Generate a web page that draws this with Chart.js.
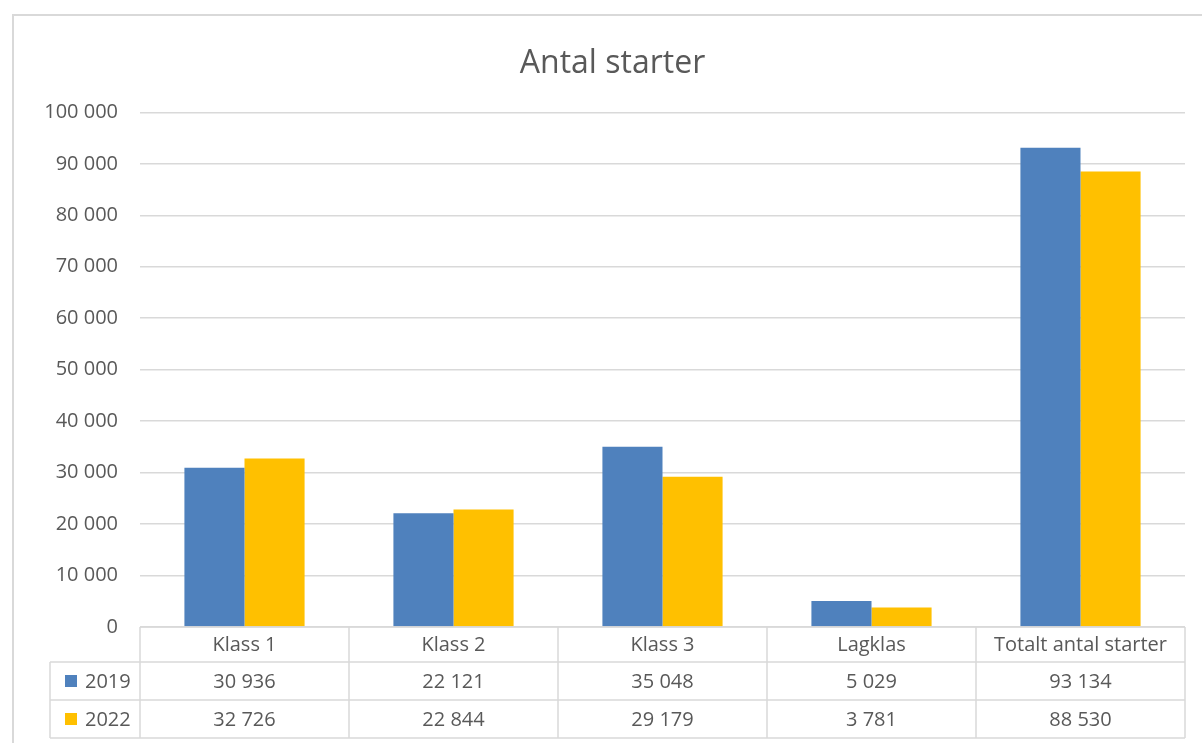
<!DOCTYPE html>
<html>
<head>
<meta charset="utf-8">
<script src="https://cdn.jsdelivr.net/npm/chart.js@4.4.1/dist/chart.umd.min.js"></script>
<style>
  html, body { margin: 0; padding: 0; background: #fff; }
  #wrap { width: 1202px; height: 743px; position: relative; }
</style>
</head>
<body>
<div id="wrap"><canvas id="chart-canvas"></canvas></div>
<script>
const categories = ['Klass 1', 'Klass 2', 'Klass 3', 'Lagklas', 'Totalt antal starter'];
const seriesNames = ['2019', '2022'];
const values2019 = [30936, 22121, 35048, 5029, 93134];
const values2022 = [32726, 22844, 29179, 3781, 88530];
const yTicks = [0, 10000, 20000, 30000, 40000, 50000, 60000, 70000, 80000, 90000, 100000];
const colors = ['#4F81BD', '#FFC000'];

const FONT = "'Open Sans', 'DejaVu Sans', sans-serif";
const TEXT = '#595959';
const LINE = '#d9d9d9';

function fmt(n) {
    return String(n).replace(/\B(?=(\d{3})+(?!\d))/g, ' ');
}

// outer chart border + data table under the plot
const tablePlugin = {
    id: 'dataTable',
    beforeDraw(chart) {
        const ctx = chart.ctx;
        ctx.save();
        ctx.strokeStyle = LINE;
        ctx.lineWidth = 2;
        ctx.beginPath();
        ctx.moveTo(13, 743);
        ctx.lineTo(13, 15);
        ctx.lineTo(1202, 15);
        ctx.stroke();
        ctx.restore();
    },
    afterDraw(chart) {
        const ctx = chart.ctx;
        const area = chart.chartArea;
        const x = chart.scales.x;
        const colW = area.width / categories.length;
        const top = area.bottom;
        const rows = [top, top + 35, top + 73, top + 111];
        const legendLeft = 50;
        const allSeries = [values2019, values2022];

        ctx.save();
        ctx.strokeStyle = LINE;
        ctx.lineWidth = 1.5;
        ctx.beginPath();
        // horizontal lines
        ctx.moveTo(area.left, rows[0]); ctx.lineTo(area.right, rows[0]);
        for (let r = 1; r < rows.length; r++) {
            ctx.moveTo(legendLeft, rows[r]); ctx.lineTo(area.right, rows[r]);
        }
        // vertical lines
        ctx.moveTo(legendLeft, rows[1]); ctx.lineTo(legendLeft, rows[3]);
        for (let i = 0; i <= categories.length; i++) {
            const xx = area.left + i * colW;
            ctx.moveTo(xx, rows[0]); ctx.lineTo(xx, rows[3]);
        }
        ctx.stroke();

        ctx.fillStyle = TEXT;
        ctx.font = '20px ' + FONT;
        ctx.textAlign = 'center';
        ctx.textBaseline = 'middle';
        categories.forEach((c, i) => {
            const cx = x.getPixelForValue(i);
            ctx.fillText(c, cx, (rows[0] + rows[1]) / 2 + 1);
            allSeries.forEach((s, k) => {
                ctx.fillText(fmt(s[i]), cx, (rows[k + 1] + rows[k + 2]) / 2 + 1);
            });
        });

        // legend keys in the first column
        seriesNames.forEach((name, k) => {
            const cy = (rows[k + 1] + rows[k + 2]) / 2;
            ctx.fillStyle = colors[k];
            ctx.fillRect(legendLeft + 15, cy - 6, 12, 12);
            ctx.fillStyle = TEXT;
            ctx.textAlign = 'left';
            ctx.fillText(name, legendLeft + 35, cy + 1);
        });
        ctx.restore();
    }
};

const data = {
    labels: categories,
    datasets: [
        { label: seriesNames[0], data: values2019, backgroundColor: colors[0] },
        { label: seriesNames[1], data: values2022, backgroundColor: colors[1] }
    ]
};

const config = {
    type: 'bar',
    data: data,
    options: {
        responsive: true,
        maintainAspectRatio: false,
        animation: false,
        categoryPercentage: 0.575,
        barPercentage: 1,
        layout: {
            padding: { left: 40, right: 17, top: 0, bottom: 116 }
        },
        scales: {
            x: { display: false },
            y: {
                min: 0,
                max: 100000,
                afterBuildTicks: scale => {
                    scale.ticks = yTicks.map(v => ({ value: v }));
                },
                afterFit: scale => { scale.width = 100; },
                border: { display: false },
                grid: { color: LINE, lineWidth: 1.5, drawTicks: false },
                ticks: {
                    padding: 22,
                    color: TEXT,
                    font: { family: FONT, size: 20 },
                    callback: v => fmt(v)
                }
            }
        },
        plugins: {
            legend: { display: false },
            tooltip: { enabled: false },
            title: {
                display: true,
                text: 'Antal starter',
                color: TEXT,
                font: { family: FONT, size: 32, weight: 'normal' },
                padding: { top: 45, bottom: 29 }
            }
        }
    },
    plugins: [tablePlugin]
};

const ctx = document.getElementById('chart-canvas').getContext('2d');
const myBarChart = new Chart(ctx, config);
</script>
</body>
</html>
